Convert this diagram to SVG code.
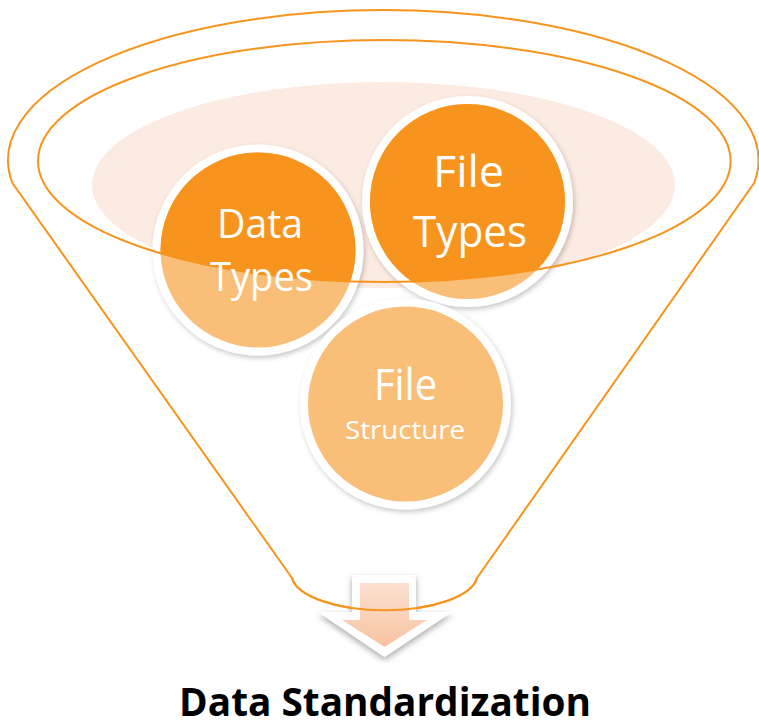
<svg xmlns="http://www.w3.org/2000/svg" width="759" height="722" viewBox="0 0 759 722">
  <style>
    .rim { fill: none; stroke: #F7941D; stroke-width: 2; }
    .ring { fill: #FFFFFF; filter: url(#soft); }
    .lower { fill: #F9BE77; }
    .upper { fill: #F7941D; }
    .lbl { font-family: "Open Sans", "Liberation Sans", sans-serif; fill: #FFFFFF; text-anchor: middle; }
    .title { font-family: "Open Sans", "Liberation Sans", sans-serif; font-weight: bold; fill: #000000; text-anchor: middle; }
  </style>
  <defs>
    <filter id="soft" x="-20%" y="-20%" width="140%" height="140%">
      <feDropShadow dx="1.5" dy="2.5" stdDeviation="2.5" flood-color="#000000" flood-opacity="0.22"/>
    </filter>
    <filter id="arrowShadow" x="-30%" y="-30%" width="160%" height="160%">
      <feDropShadow dx="0" dy="3" stdDeviation="3" flood-color="#000000" flood-opacity="0.35"/>
    </filter>
    <linearGradient id="arrowFill" x1="0" y1="0" x2="0" y2="1">
      <stop offset="0" stop-color="#FBE0D0"/>
      <stop offset="1" stop-color="#F9C3A2"/>
    </linearGradient>
    <!-- mouth of the funnel: circle parts inside it are drawn darker -->
    <clipPath id="mouth">
      <ellipse cx="384.3" cy="161" rx="346.3" ry="121"/>
    </clipPath>
  </defs>

  <!-- funnel body -->
  <g id="funnel">
    <ellipse cx="383.5" cy="185" rx="291.5" ry="103" fill="#FCEBE2"/>
    <path class="rim" d="M 292 578 L 12.4 183 A 375.25 150 0 1 1 754.1 183 L 477 578 A 93 36 0 0 1 292 578 Z"/>
  </g>

  <!-- output arrow -->
  <g id="arrow">
    <path d="M 352 575 L 416 575 L 416 612 L 452 612 L 384.5 657 L 318 612 L 352 612 Z" fill="#FFFFFF" filter="url(#arrowShadow)"/>
    <path d="M 360 583 L 409 583 L 409 620 L 427 620 L 384.5 647 L 342 620 L 360 620 Z" fill="url(#arrowFill)"/>
  </g>

  <!-- funnel bottom edge passes over the arrow -->
  <g id="connectors">
    <path class="rim" d="M 477 578 A 93 36 0 0 1 292 578"/>
  </g>

  <g id="node-data-types">
    <circle class="ring" cx="258" cy="250" r="105.5"/>
    <circle class="lower" cx="258" cy="250" r="97.5"/>
    <circle class="upper" cx="258" cy="250" r="97.5" clip-path="url(#mouth)"/>
  </g>

  <g id="node-file-types">
    <circle class="ring" cx="467.5" cy="201.5" r="105.5"/>
    <circle class="lower" cx="467.5" cy="201.5" r="97.5"/>
    <circle class="upper" cx="467.5" cy="201.5" r="97.5" clip-path="url(#mouth)"/>
  </g>

  <g id="node-file-structure">
    <circle class="ring" cx="405.5" cy="404" r="105.5"/>
    <circle class="lower" cx="405.5" cy="404" r="97.5"/>
  </g>

  <!-- inner rim of the funnel mouth, drawn over the circles -->
  <g id="mouth-rim">
    <ellipse class="rim" cx="384.3" cy="161" rx="346.3" ry="121"/>
  </g>

  <g id="labels">
    <text class="lbl" x="260" y="238" font-size="41" textLength="86" lengthAdjust="spacingAndGlyphs">Data</text>
    <text class="lbl" x="261.5" y="291" font-size="41" textLength="103" lengthAdjust="spacingAndGlyphs">Types</text>
    <text class="lbl" x="468.5" y="187" font-size="44" textLength="71" lengthAdjust="spacingAndGlyphs">File</text>
    <text class="lbl" x="470" y="247" font-size="44" textLength="114" lengthAdjust="spacingAndGlyphs">Types</text>
    <text class="lbl" x="405.5" y="400" font-size="43" textLength="63" lengthAdjust="spacingAndGlyphs">File</text>
    <text class="lbl" x="405" y="439" font-size="26" textLength="120" lengthAdjust="spacingAndGlyphs">Structure</text>
  </g>

  <g id="title">
    <text class="title" x="385" y="716" font-size="39" textLength="412" lengthAdjust="spacingAndGlyphs">Data Standardization</text>
  </g>
</svg>
